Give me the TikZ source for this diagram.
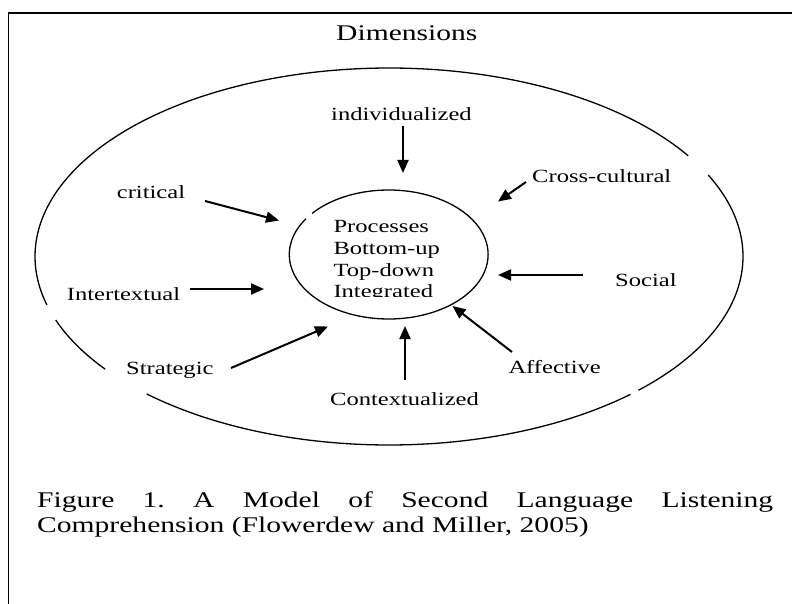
\documentclass[tikz,border=0pt]{standalone}
\usepackage{fontspec}
\setmainfont{Liberation Serif}[FakeStretch=1.32]
\usetikzlibrary{arrows.meta}
\begin{document}
\begin{tikzpicture}[x=1pt,y=-1pt,
  lbl/.style={inner sep=0pt, anchor=base west, font=\fontsize{18.6}{21.7}\selectfont},
  big/.style={inner sep=0pt, anchor=base west, font=\fontsize{22.4}{25.4}\selectfont},
  ell/.style={line width=1.3pt},
  arr/.style={line width=2pt, -{Triangle[length=13pt,width=11pt]}}]
\useasboundingbox (0,0) rectangle (792,604);
% frame
\draw[line width=1.3pt] (8.5,604) -- (8.5,13) -- (792,13);
% outer ellipse (with gaps)
\draw[ell] plot[domain=-25.6:45.2, samples=80] ({389+354*cos(\x)},{256.5+188.5*sin(\x)});
\draw[ell] plot[domain=47:133.2, samples=80] ({389+354*cos(\x)},{256.5+188.5*sin(\x)});
\draw[ell] plot[domain=143.3:160.3, samples=30] ({389+354*cos(\x)},{256.5+188.5*sin(\x)});
\draw[ell] plot[domain=165.1:327.7, samples=150] ({389+354*cos(\x)},{256.5+188.5*sin(\x)});
% inner ellipse (with gap)
\draw[ell] plot[domain=219.6:573.7, samples=200] ({388.7+99.4*cos(\x)},{254.5+64.5*sin(\x)});
% inner text
\begin{scope}
\clip (300,200) rectangle (480,296);
\node[lbl] (p1) at (333.3,232.7) {Processes};
\node[lbl] (p2) at (333.3,254.3) {Bottom-up};
\node[lbl] (p3) at (333.3,276) {Top-down};
\node[lbl] (p4) at (333.3,297.7) {Integrated};
\end{scope}
% title and labels
\node[big] (dim) at (336,41) {Dimensions};
\node[lbl] (ind) at (331,121) {individualized};
\node[lbl] (crit) at (116.7,199) {critical};
\node[lbl] (cross) at (532,182.7) {Cross-cultural};
\node[lbl] (inter) at (66.7,300) {Intertextual};
\node[lbl] (soc) at (615,286) {Social};
\node[lbl] (strat) at (126,374) {Strategic};
\node[lbl] (ctx) at (330,405) {Contextualized};
\node[lbl] (aff) at (508.3,373.3) {Affective};
% arrow end points
\coordinate (indA) at (403,126);   \coordinate (indB) at (403,173);
\coordinate (critA) at (205,201);  \coordinate (critB) at (279,220.5);
\coordinate (crossA) at (526,182); \coordinate (crossB) at (498,201.5);
\coordinate (interA) at (190,289); \coordinate (interB) at (264,289);
\coordinate (socA) at (583,275);   \coordinate (socB) at (498,275);
\coordinate (stratA) at (231,368); \coordinate (stratB) at (328,326.5);
\coordinate (ctxA) at (405,380);   \coordinate (ctxB) at (405,326);
\coordinate (affA) at (512,352);   \coordinate (affB) at (452.5,306);
\draw[arr] (indA) -- (indB);
\draw[arr] (critA) -- (critB);
\draw[arr] (crossA) -- (crossB);
\draw[arr] (interA) -- (interB);
\draw[arr] (socA) -- (socB);
\draw[arr] (stratA) -- (stratB);
\draw[arr] (ctxA) -- (ctxB);
\draw[arr] (affA) -- (affB);
% caption
\node[big] (cap1) at (37,507.3) {\makebox[736pt][s]{Figure 1.\ A Model of Second Language Listening}};
\node[big] (cap2) at (37,532.7) {Comprehension (Flowerdew and Miller, 2005)};
\end{tikzpicture}
\end{document}
